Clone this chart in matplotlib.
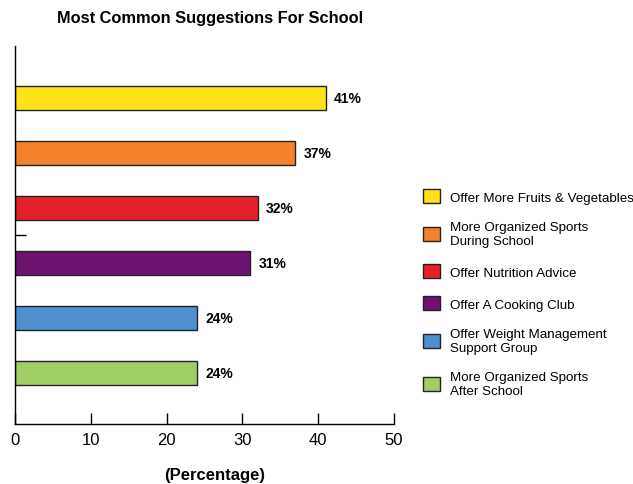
import matplotlib.pyplot as plt
from matplotlib.patches import Patch

plt.rcParams['font.family'] = ['Liberation Sans', 'DejaVu Sans']

# Datos
sugerencias = ['Offer More Fruits & Vegetables',
               'More Organized Sports\nDuring School',
               'Offer Nutrition Advice',
               'Offer A Cooking Club',
               'Offer Weight Management\nSupport Group',
               'More Organized Sports\nAfter School']
porcentajes = [41, 37, 32, 31, 24, 24]
colores = ['#FFE317', '#F5822A', '#E42128', '#6E1470', '#4E8FD0', '#A1CF65']
ticks_x = [0, 10, 20, 30, 40, 50]

fig = plt.figure(figsize=(6.33, 4.85), dpi=100)
ax = fig.add_axes([15 / 633, 60 / 485, 379 / 633, 378 / 485])

posiciones = list(range(len(porcentajes)))
ax.barh(posiciones, porcentajes, height=0.44, color=colores,
        edgecolor='#222222', linewidth=1)

for p, v in zip(posiciones, porcentajes):
    ax.text(v + 1.1, p, f'{v}%', va='center', ha='left',
            fontsize=10, fontweight='bold')

ax.set_xlim(0, 50)
ax.set_ylim(5.93, -0.945)
ax.set_xticks(ticks_x)
ax.set_xticklabels([str(t) for t in ticks_x], fontsize=12)
ax.set_yticks([2.5])
ax.set_yticklabels([''])
ax.tick_params(axis='x', direction='in', length=8, width=1, pad=6)
ax.tick_params(axis='y', direction='in', length=8, width=1)
for s in ['top', 'right']:
    ax.spines[s].set_visible(False)
for s in ['left', 'bottom']:
    ax.spines[s].set_linewidth(1)

fig.text(215 / 633, 1 - 476 / 485, '(Percentage)', ha='center', va='center',
         fontsize=12, fontweight='bold')
fig.text(210 / 633, 1 - 18 / 485, 'Most Common Suggestions For School',
         ha='center', va='center', fontsize=11.8, fontweight='bold')

# Leyenda
handles = [Patch(facecolor=c, edgecolor='#222222', linewidth=1) for c in colores]
fig.legend(handles, sugerencias, loc='center left',
           bbox_to_anchor=(411 / 633, 1 - 294 / 485), frameon=False,
           fontsize=9.6, handlelength=1.25, handleheight=1.25,
           labelspacing=1.3, handletextpad=0.75)

plt.savefig('out.png', dpi=100)
